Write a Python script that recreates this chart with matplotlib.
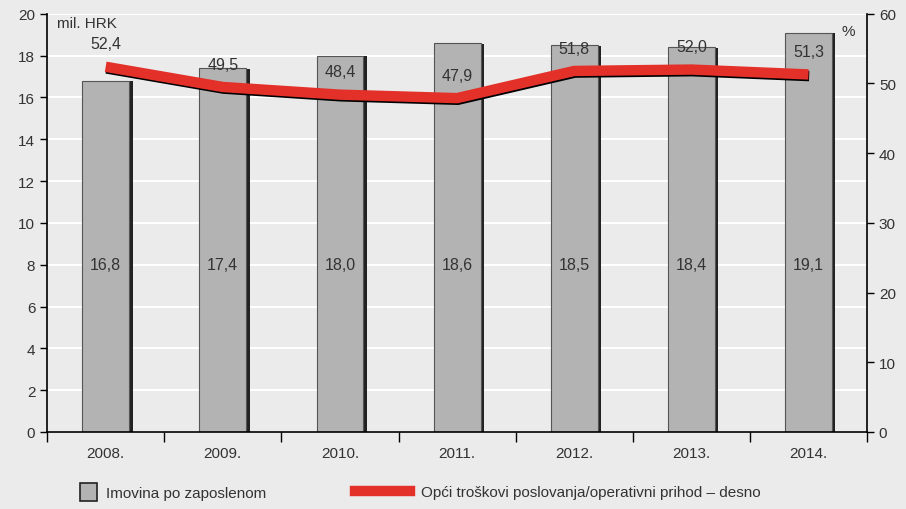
import matplotlib.pyplot as plt
import matplotlib.patheffects as pe
import numpy as np

# data
years = ['2008.', '2009.', '2010.', '2011.', '2012.', '2013.', '2014.']
imovina = [16.8, 17.4, 18.0, 18.6, 18.5, 18.4, 19.1]      # mil. HRK, left axis
troskovi = [52.4, 49.5, 48.4, 47.9, 51.8, 52.0, 51.3]     # %, right axis

plt.rcParams['font.family'] = ['Liberation Sans Narrow', 'Liberation Sans', 'DejaVu Sans']
bg = '#ebebeb'
txt = '#333333'

fig = plt.figure(figsize=(9.06, 5.10), dpi=100, facecolor=bg)
ax = fig.add_axes([0.052, 0.151, 0.905, 0.82])
ax.set_facecolor(bg)
x = np.arange(len(years))

bars = ax.bar(x, imovina, width=0.4, color='#b3b3b3', edgecolor='#555555', linewidth=0.8, zorder=3,
              path_effects=[pe.SimplePatchShadow(offset=(2.5, -0.5), shadow_rgbFace='#222222', alpha=1), pe.Normal()])
for xi, v in zip(x, imovina):
    ax.text(xi, 8, ('%.1f' % v).replace('.', ','), ha='center', va='center', fontsize=11.5, color=txt, zorder=6)

ax.set_xlim(-0.5, len(years) - 0.5)
ax.set_ylim(0, 20)
ax.set_yticks(np.arange(0, 21, 2))
ax.set_xticks(x)
ax.set_xticklabels(years)
ax.set_xticks(np.arange(-0.5, len(years), 1), minor=True)
ax.tick_params(axis='x', which='major', length=0, pad=10, labelsize=11, labelcolor=txt)
ax.tick_params(axis='x', which='minor', length=7, width=1, direction='out')
ax.tick_params(axis='y', length=5, width=1, labelsize=11, labelcolor=txt)
ax.yaxis.grid(True, color='white', linewidth=1.5, zorder=0)
ax.set_axisbelow(True)
for s in ['top', 'right']:
    ax.spines[s].set_visible(False)
ax.spines['left'].set_linewidth(1.2)
ax.spines['bottom'].set_linewidth(1.2)
ax.spines['bottom'].set_zorder(5)

ax2 = ax.twinx()
ax2.set_ylim(0, 60)
ax2.set_yticks(np.arange(0, 61, 10))
ax2.tick_params(axis='y', length=5, width=1, labelsize=11, labelcolor=txt)
for s in ['top', 'left', 'bottom']:
    ax2.spines[s].set_visible(False)
ax2.spines['right'].set_linewidth(1.2)

ax2.plot(x, troskovi, color='#e3312a', linewidth=7.5, solid_capstyle='butt', zorder=4,
         path_effects=[pe.SimpleLineShadow(offset=(0.5, -1.2), shadow_color='black', alpha=1), pe.Normal()])
for xi, v in zip(x, troskovi):
    ax2.annotate(('%.1f' % v).replace('.', ','), (xi, v), xytext=(0, 11), textcoords='offset points',
                 ha='center', va='bottom', fontsize=11.5, color=txt, zorder=6)

ax.text(0.012, 0.995, 'mil. HRK', transform=ax.transAxes, ha='left', va='top', fontsize=11, color=txt)
ax.text(0.985, 0.975, '%', transform=ax.transAxes, ha='right', va='top', fontsize=11, color=txt)

# legend, two parts because the handles have different widths
h1 = plt.Rectangle((0, 0), 1, 1, facecolor='#b3b3b3', edgecolor='#222222', linewidth=1.2)
h2 = plt.Line2D([0], [0], color='#e3312a', linewidth=7.5)
fig.legend([h1], ['Imovina po zaposlenom'], loc='center left', bbox_to_anchor=(0.088, 0.033),
           frameon=False, fontsize=11, handlelength=1.1, handleheight=1.4, handletextpad=0.6,
           labelcolor=txt, borderpad=0, borderaxespad=0)
fig.legend([h2], ['Opći troškovi poslovanja/operativni prihod – desno'], loc='center left',
           bbox_to_anchor=(0.392, 0.033), frameon=False, fontsize=11, handlelength=3.6,
           handletextpad=0.7, labelcolor=txt, borderpad=0, borderaxespad=0)

fig.savefig('out.png', dpi=100, facecolor=bg)
